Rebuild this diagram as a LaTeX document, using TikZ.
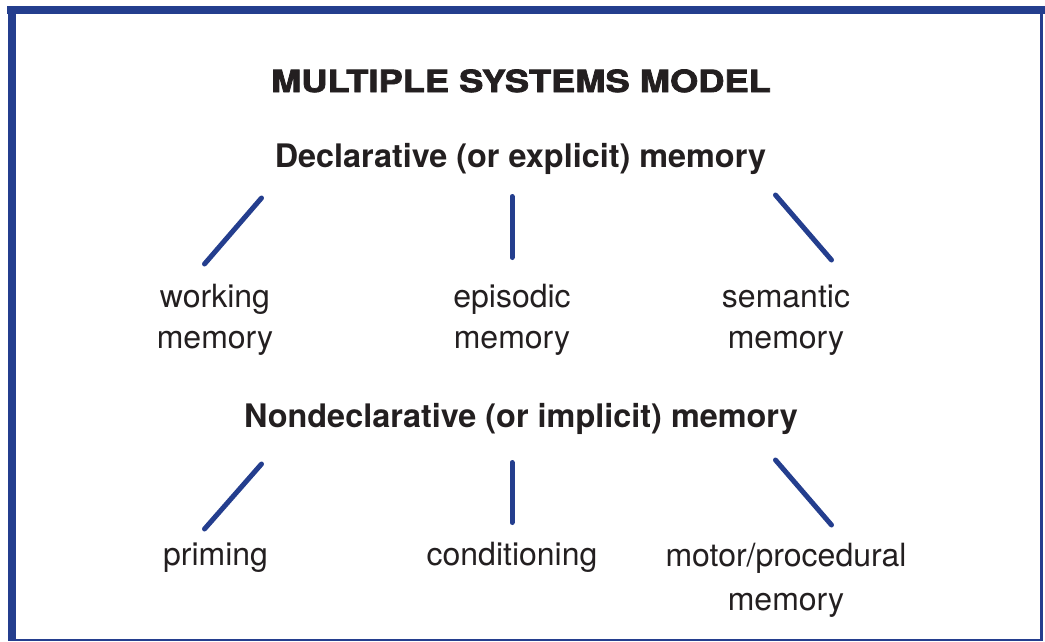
\documentclass[tikz,border=0pt]{standalone}
\usepackage{fontspec}
\setmainfont{TeX Gyre Heros}
\newfontfamily\titlefont[BoldFeatures={FakeStretch=1.19,FakeBold=2.5}]{TeX Gyre Heros}
\usepackage{xcolor}
\usetikzlibrary{positioning}
\definecolor{boxblue}{RGB}{36,62,142}
\definecolor{inkgray}{RGB}{35,31,32}
\tikzset{
	branch/.style={line width=5pt,boxblue,line cap=round},
	head/.style={font=\fontsize{32.4}{40}\selectfont\bfseries,text=inkgray,inner sep=0pt,anchor=base},
	leaf/.style={font=\fontsize{32}{41}\selectfont,text=inkgray,align=center,inner sep=0pt,anchor=base},
}
\begin{document}
\begin{tikzpicture}[x=1pt,y=-1pt]
	\useasboundingbox (0,0) rectangle (1045,641);
	% frame
	\fill[boxblue] (7,6) rectangle (1045,14);
	\fill[boxblue] (8,6) rectangle (16,641);
	\fill[boxblue] (1040,14) rectangle (1043,641);
	\fill[boxblue] (16,639) rectangle (1040,641);
	
	% title
	\node[anchor=base,text=inkgray,inner sep=0pt,font=\titlefont\bfseries\fontsize{30.5}{36}\selectfont] (title) at (521,92) {MULTIPLE SYSTEMS MODEL};
	
	% declarative (base = last line)
	\node[head] (decl) at (520.5,167) {Declarative (or explicit) memory};
	\node[leaf] (work) at (215,348) {working\\memory};
	\node[leaf] (epis) at (512,348) {episodic\\memory};
	\node[leaf] (sem) at (786,348) {semantic\\memory};
	\coordinate (d1) at (261.5,198);
	\coordinate (d2) at (512,196.5);
	\coordinate (d3) at (775.5,195);
	\coordinate (w1) at (204.5,264);
	\coordinate (e1) at (512,257.5);
	\coordinate (s1) at (831.5,260);
	
	% nondeclarative
	\node[head] (nondecl) at (521,427) {Nondeclarative (or implicit) memory};
	\node[leaf] (prim) at (215.5,565) {priming};
	\node[leaf] (cond) at (512,565) {conditioning};
	\node[leaf,font=\fontsize{32}{44}\selectfont] (motor) at (786,610) {motor/procedural\\memory};
	\coordinate (n1) at (261.5,464);
	\coordinate (n2) at (512,462.5);
	\coordinate (n3) at (775.5,460);
	\coordinate (p1) at (204.5,529);
	\coordinate (c1) at (512,522.5);
	\coordinate (m1) at (831.5,525);
	
	\foreach \a/\b in {d1/w1,d2/e1,d3/s1,n1/p1,n2/c1,n3/m1}{
		\draw[branch] (\a) -- (\b);
	}
\end{tikzpicture}
\end{document}
